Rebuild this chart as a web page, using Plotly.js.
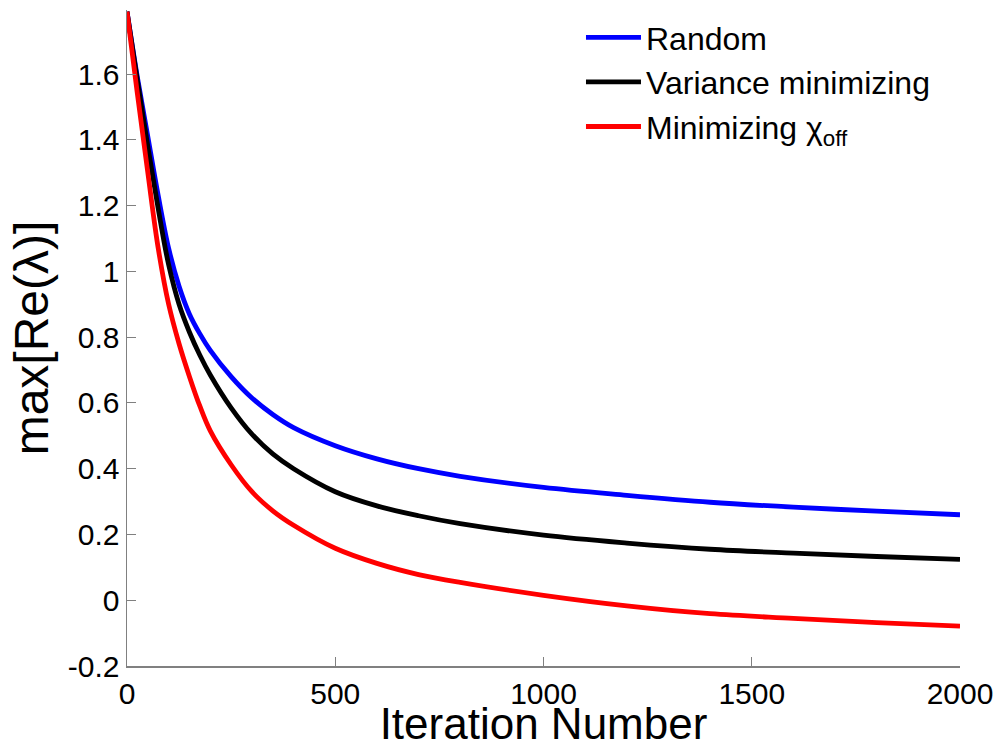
<!DOCTYPE html>
<html>
<head>
<meta charset="utf-8">
<script src="https://cdn.plot.ly/plotly-3.0.1.min.js"></script>
<style>html,body{margin:0;padding:0;background:#fff;}#chart{width:999px;height:748px;}</style>
</head>
<body>
<div id="chart"></div>
<script>
// Iteration numbers and max[Re(lambda)] values
var iterations = [0, 25, 50, 75, 100, 125, 150, 175, 200, 250, 300, 350, 400, 500, 600, 700, 800, 1000, 1200, 1400, 1600, 1800, 2000];
var valRandom   = [1.79, 1.59, 1.41, 1.23, 1.07, 0.955, 0.87, 0.81, 0.76, 0.68, 0.615, 0.565, 0.525, 0.47, 0.43, 0.40, 0.377, 0.343, 0.319, 0.298, 0.283, 0.271, 0.260];
var valVariance = [1.79, 1.58, 1.38, 1.19, 1.02, 0.90, 0.815, 0.745, 0.685, 0.585, 0.505, 0.445, 0.400, 0.330, 0.287, 0.257, 0.233, 0.198, 0.174, 0.155, 0.143, 0.133, 0.124];
var valChi      = [1.79, 1.54, 1.30, 1.07, 0.90, 0.78, 0.68, 0.59, 0.515, 0.412, 0.330, 0.272, 0.228, 0.158, 0.112, 0.078, 0.054, 0.015, -0.017, -0.041, -0.055, -0.068, -0.079];

var seriesNames = ['Random', 'Variance minimizing', 'Minimizing \u03c7<sub>off</sub>'];
var xTicks = [0, 500, 1000, 1500, 2000];
var yTicks = [-0.2, 0, 0.2, 0.4, 0.6, 0.8, 1, 1.2, 1.4, 1.6];
var yTickText = ['-0.2', '0', '0.2', '0.4', '0.6', '0.8', '1', '1.2', '1.4', '1.6'];

var FONT = 'Liberation Sans, Arial, Helvetica, sans-serif';
function mk(x, y, name, color) {
  return {x: x, y: y, name: name, type: 'scatter', mode: 'lines',
          line: {color: color, width: 4.8, shape: 'spline', smoothing: 1},
          hoverinfo: 'skip'};
}
var data = [
  mk(iterations, valRandom, seriesNames[0], '#0000ff'),
  mk(iterations, valVariance, seriesNames[1], '#000000'),
  mk(iterations, valChi, seriesNames[2], '#ff0000')
];
var axisColor = '#808080';
var layout = {
  width: 999, height: 748,
  margin: {l: 127, r: 39, t: 10, b: 82, pad: 0},
  paper_bgcolor: '#ffffff', plot_bgcolor: '#ffffff',
  font: {family: FONT, color: '#000000'},
  showlegend: true,
  legend: {x: 0.545, y: 1.0, xanchor: 'left', yanchor: 'top',
           font: {family: FONT, size: 32, color: '#000'},
           itemwidth: 55,
           bgcolor: 'rgba(0,0,0,0)', borderwidth: 0, tracegroupgap: 0},
  xaxis: {
    range: [0, 2000], tickvals: xTicks, ticktext: xTicks.map(String),
    ticks: 'inside', ticklen: 9, tickcolor: axisColor, tickwidth: 1,
    showline: true, linecolor: axisColor, linewidth: 1.5, mirror: false,
    showgrid: false, zeroline: false,
    tickfont: {family: FONT, size: 30, color: '#000'},
    title: {text: 'Iteration Number', font: {family: FONT, size: 44, color: '#000'}, standoff: 7}
  },
  yaxis: {
    range: [-0.2, 1.795], tickvals: yTicks, ticktext: yTickText,
    ticks: 'inside', ticklen: 9, tickcolor: axisColor, tickwidth: 1,
    showline: true, linecolor: axisColor, linewidth: 1.5, mirror: false,
    showgrid: false, zeroline: false,
    tickfont: {family: FONT, size: 30, color: '#000'},
    title: {text: 'max[Re(\u03bb)]', font: {family: FONT, size: 48, color: '#000'}, standoff: 4}
  }
};
Plotly.newPlot('chart', data, layout, {displayModeBar: false, staticPlot: true});
</script>
</body>
</html>
